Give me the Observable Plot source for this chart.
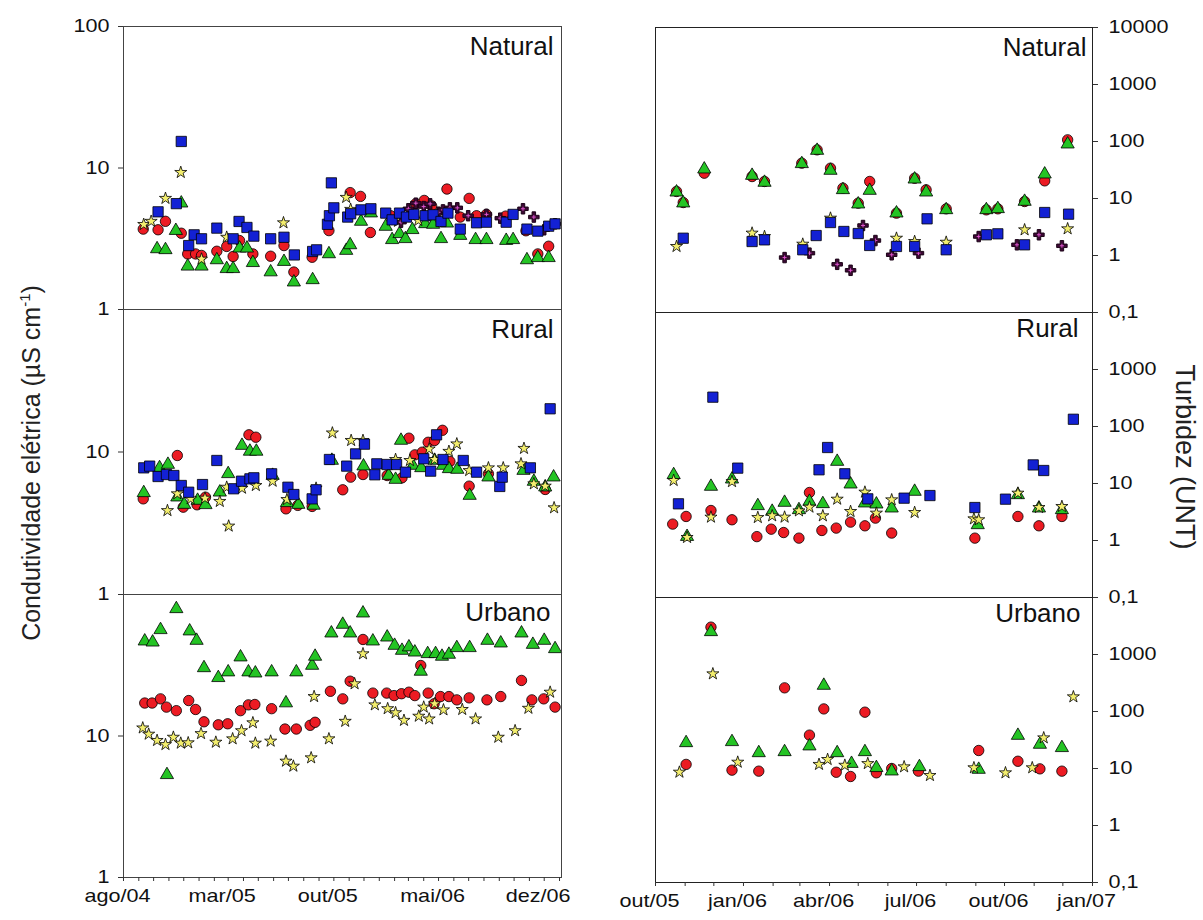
<!DOCTYPE html>
<html>
<head>
<meta charset="utf-8">
<script src="https://cdn.jsdelivr.net/npm/d3@7"></script>
<script src="https://cdn.jsdelivr.net/npm/@observablehq/plot@0.6"></script>
<style>
  body { margin: 0; background: #fff; }
  #chart { position: relative; width: 1203px; height: 920px; font-family: "Liberation Sans", Arial, sans-serif; color: #111; }
  #chart svg { position: absolute; overflow: visible; }
  .ytitle { position: absolute; white-space: nowrap; color: #222; }
  .ytitle sup { font-size: 15px; }
</style>
</head>
<body>
<div id="chart"></div>
<script>
// ---- Condutividade elétrica (µS cm-1) ----
const condNatRed = [["2004-09-10",3.7],["2004-10-10",3.66],["2004-10-25",4.2],["2004-11-26",3.46],["2004-12-09",2.47],["2004-12-25",2.47],["2005-01-06",2.41],["2005-02-06",2.58],["2005-02-26",2.79],["2005-03-11",2.37],["2005-03-24",3.07],["2005-04-20",2.47],["2005-05-26",2.38],["2005-06-22",2.83],["2005-07-12",1.84],["2005-08-18",2.34],["2005-09-21",3.61],["2005-11-03",6.7],["2005-11-24",6.3],["2005-12-14",3.5],["2006-01-24",4.6],["2006-03-16",5.6],["2006-04-02",5.9],["2006-04-17",5.4],["2006-05-18",7.1],["2006-06-14",4.5],["2006-07-02",6.1],["2006-07-17",4.6],["2006-08-06",4.7],["2006-09-14",4.57],["2006-10-25",3.6],["2006-11-18",2.47],["2006-12-10",2.8]];
const condNatGreen = [["2004-10-08",2.68],["2004-10-25",2.64],["2004-11-15",3.61],["2004-11-26",5.64],["2004-12-09",2.02],["2005-01-06",2.02],["2005-02-06",2.24],["2005-02-26",1.94],["2005-03-11",1.94],["2005-03-24",2.71],["2005-04-08",2.71],["2005-04-20",2.14],["2005-05-26",1.84],["2005-06-22",2.18],["2005-07-12",1.56],["2005-08-19",1.62],["2005-09-21",2.47],["2005-10-26",2.61],["2005-11-03",2.86],["2005-11-25",4.19],["2005-12-15",4.8],["2006-01-14",3.86],["2006-01-27",3.11],["2006-02-11",3.43],["2006-02-23",3.16],["2006-03-09",3.66],["2006-04-04",4.03],["2006-04-20",3.99],["2006-05-06",3.16],["2006-05-18",4.07],["2006-06-14",3.33],["2006-07-15",3.11],["2006-08-06",3.11],["2006-09-15",3.07],["2006-09-29",3.11],["2006-10-27",2.24],["2006-11-18",2.32],["2006-12-10",2.32]];
const condNatYellow = [["2004-09-11",3.99],["2004-09-26",4.2],["2004-10-25",6.1],["2004-11-25",9.3],["2005-01-06",2.27],["2005-02-26",3.24],["2005-06-21",4.1],["2005-10-26",6.2],["2005-11-04",5.1],["2006-02-08",4.2],["2006-03-21",4.26]];
const condNatDark = [["2006-02-14",4.14],["2006-03-01",5.15],["2006-03-16",5.64],["2006-04-01",5.34],["2006-04-14",5.58],["2006-05-01",4.87],["2006-05-10",5.06],["2006-05-24",5.23],["2006-06-08",5.23],["2006-06-30",4.6],["2006-08-06",4.7],["2006-09-03",4.42],["2006-10-19",5.15],["2006-11-10",4.5],["2006-12-01",3.66],["2006-12-23",4.03]];
const condNatBlue = [["2004-10-10",4.9],["2004-11-16",5.6],["2004-11-26",15.4],["2004-12-11",2.83],["2004-12-22",3.37],["2005-01-06",3.16],["2005-02-06",3.76],["2005-03-11",3.16],["2005-03-23",4.19],["2005-04-08",3.8],["2005-04-22",3.3],["2005-05-26",3.16],["2005-06-22",3.24],["2005-07-13",2.43],["2005-08-19",2.57],["2005-08-27",2.64],["2005-09-18",4.0],["2005-09-22",4.6],["2005-09-26",7.85],["2005-10-01",5.23],["2005-10-29",4.5],["2005-11-04",4.75],["2005-11-25",5.06],["2005-12-15",5.15],["2006-01-14",4.8],["2006-01-27",4.3],["2006-02-11",4.8],["2006-02-25",4.5],["2006-03-12",4.7],["2006-04-04",4.6],["2006-04-20",4.67],["2006-05-06",4.19],["2006-05-20",4.8],["2006-06-14",3.7],["2006-07-17",4.1],["2006-08-06",4.14],["2006-09-15",4.14],["2006-09-29",4.7],["2006-10-27",3.7],["2006-11-18",3.58],["2006-12-10",3.88],["2006-12-23",4.03]];

const condRurRed = [["2004-09-10",4.69],["2004-11-18",9.45],["2004-11-30",4.1],["2004-12-28",4.26],["2005-01-14",4.82],["2005-04-12",13.2],["2005-04-26",12.7],["2005-06-26",3.99],["2005-07-20",4.22],["2005-08-18",4.15],["2005-10-19",5.43],["2005-11-04",6.66],["2005-11-29",6.95],["2006-01-17",6.84],["2006-02-16",6.59],["2006-03-02",12.5],["2006-03-14",9.55],["2006-03-29",9.97],["2006-04-10",11.7],["2006-04-23",12.05],["2006-05-09",14.2],["2006-05-24",8.58],["2006-07-02",5.76],["2006-08-10",7.03],["2006-12-03",5.46]];
const condRurGreen = [["2004-09-11",5.17],["2004-10-13",7.74],["2004-10-30",8.17],["2004-11-18",4.82],["2004-12-02",4.28],["2004-12-29",4.57],["2005-01-14",4.26],["2005-02-12",5.22],["2005-03-01",7.03],["2005-03-29",11.1],["2005-04-14",10.1],["2005-04-27",10.1],["2005-05-30",6.84],["2005-06-28",4.4],["2005-07-21",4.28],["2005-08-21",4.22],["2005-09-27",8.72],["2005-11-30",7.96],["2006-01-20",6.84],["2006-02-03",6.41],["2006-02-14",12.05],["2006-03-10",8.04],["2006-03-27",7.74],["2006-04-23",8.72],["2006-05-10",8.04],["2006-05-22",7.62],["2006-06-08",7.54],["2006-07-03",4.95],["2006-08-10",6.66],["2006-10-20",7.41],["2006-11-10",6.21],["2006-12-03",5.67],["2006-12-20",6.66]];
const condRurYellow = [["2004-10-29",3.88],["2004-11-18",5.09],["2004-12-15",4.69],["2005-01-13",4.74],["2005-02-12",4.5],["2005-02-26",5.66],["2005-03-02",3.02],["2005-03-29",5.57],["2005-04-26",5.82],["2005-05-30",6.24],["2005-06-28",4.64],["2005-08-26",5.57],["2005-09-28",13.6],["2005-11-05",12.05],["2005-11-29",12.05],["2006-02-03",8.86],["2006-03-04",8.72],["2006-04-12",10.5],["2006-04-23",8.86],["2006-05-22",10.1],["2006-06-07",11.4],["2006-07-02",7.41],["2006-08-10",7.74],["2006-09-09",7.74],["2006-10-15",8.26],["2006-10-21",10.6],["2006-11-10",5.98],["2006-12-03",5.76],["2006-12-21",4.06]];
const condRurBlue = [["2004-09-11",7.74],["2004-09-23",7.96],["2004-10-10",6.73],["2004-10-27",6.95],["2004-11-11",6.84],["2004-11-26",5.82],["2004-12-11",5.22],["2005-01-08",5.91],["2005-02-06",8.72],["2005-03-12",5.52],["2005-03-28",6.24],["2005-04-14",6.48],["2005-04-22",6.59],["2005-05-28",7.03],["2005-06-30",5.66],["2005-07-12",5.03],["2005-08-18",4.69],["2005-08-26",5.43],["2005-09-22",8.86],["2005-10-27",7.96],["2005-11-14",9.7],["2005-12-02",11.35],["2005-12-23",6.92],["2005-12-27",8.26],["2006-01-17",8.17],["2006-02-05",8.17],["2006-02-23",7.22],["2006-04-01",8.96],["2006-04-15",7.34],["2006-04-27",13.2],["2006-05-10",8.86],["2006-06-20",8.72],["2006-07-17",7.22],["2006-09-02",5.73],["2006-09-07",6.66],["2006-11-03",7.74],["2006-12-13",20.1]];

const condUrbRed = [["2004-09-13",17.1],["2004-09-28",17.1],["2004-10-15",18.3],["2004-10-27",16.0],["2004-11-16",15.1],["2004-12-11",17.8],["2004-12-25",15.4],["2005-01-11",12.6],["2005-02-09",12.0],["2005-02-28",12.2],["2005-03-26",15.1],["2005-04-11",16.6],["2005-04-24",16.7],["2005-05-28",15.6],["2005-06-24",11.2],["2005-07-17",11.2],["2005-08-14",11.9],["2005-08-24",12.5],["2005-09-24",20.7],["2005-10-19",18.3],["2005-11-03",24.4],["2005-11-29",48.1],["2005-12-19",20.1],["2006-01-16",20.1],["2006-01-31",19.3],["2006-02-15",19.9],["2006-03-02",20.4],["2006-03-14",19.3],["2006-03-26",31.5],["2006-04-10",20.1],["2006-04-22",16.9],["2006-05-05",19.0],["2006-05-22",19.0],["2006-06-07",18.0],["2006-07-02",18.6],["2006-08-07",18.0],["2006-09-04",19.0],["2006-10-16",24.7],["2006-11-06",18.0],["2006-11-30",18.3],["2006-12-23",16.0]];
const condUrbGreen = [["2004-09-13",46.8],["2004-09-29",46.0],["2004-10-15",56.3],["2004-10-28",5.32],["2004-11-16",79.2],["2004-12-13",55.1],["2004-12-27",47.3],["2005-01-11",30.3],["2005-02-09",25.8],["2005-03-01",28.3],["2005-03-26",36.1],["2005-04-11",28.3],["2005-04-25",27.8],["2005-05-28",28.3],["2005-06-26",17.1],["2005-07-17",28.3],["2005-08-18",31.5],["2005-08-24",36.5],["2005-09-26",53.3],["2005-10-19",61.4],["2005-11-03",53.3],["2005-11-29",73.8],["2005-12-19",46.8],["2006-01-17",49.9],["2006-02-01",43.6],["2006-02-16",40.2],["2006-03-02",42.5],["2006-03-14",39.1],["2006-03-26",28.6],["2006-04-09",38.1],["2006-04-25",38.1],["2006-05-08",36.5],["2006-05-22",37.7],["2006-06-07",42.0],["2006-07-03",42.0],["2006-08-08",47.3],["2006-09-04",45.3],["2006-10-16",53.3],["2006-11-08",44.3],["2006-12-01",47.3],["2006-12-23",41.3]];
const condUrbYellow = [["2004-09-09",11.4],["2004-09-21",10.3],["2004-10-08",9.3],["2004-10-25",8.7],["2004-11-10",9.8],["2004-11-25",8.9],["2004-12-10",8.95],["2005-01-05",10.4],["2005-02-04",9.04],["2005-03-10",9.55],["2005-03-28",10.9],["2005-04-20",12.4],["2005-04-25",8.9],["2005-05-26",9.2],["2005-06-26",6.64],["2005-07-11",6.12],["2005-08-16",7.01],["2005-08-22",19.0],["2005-09-21",9.55],["2005-10-24",12.7],["2005-11-12",23.4],["2005-11-29",38.1],["2005-12-23",16.6],["2006-01-18",15.6],["2006-02-03",14.6],["2006-02-20",12.9],["2006-03-22",13.8],["2006-04-01",16.0],["2006-04-12",13.2],["2006-04-23",16.9],["2006-05-11",15.3],["2006-06-18",15.4],["2006-07-15",13.2],["2006-08-30",9.8],["2006-10-03",10.9],["2006-10-30",15.7],["2006-12-13",20.4]];

// ---- Turbidez (UNT) ----
const turbNatRed = [["2005-10-23",13.3],["2005-10-30",8.5],["2005-11-21",27.8],["2006-01-10",24.3],["2006-01-23",19.9],["2006-03-03",41.7],["2006-03-19",71.4],["2006-04-02",34.0],["2006-04-15",15.2],["2006-05-01",8.28],["2006-05-13",19.9],["2006-06-10",5.53],["2006-06-29",22.7],["2006-07-11",14.2],["2006-08-01",6.59],["2006-09-12",6.32],["2006-09-24",6.59],["2006-10-22",8.86],["2006-11-12",20.4],["2006-12-06",107]];
const turbNatGreen = [["2005-10-23",12.9],["2005-10-30",8.3],["2005-11-21",32.7],["2006-01-10",25.3],["2006-01-23",19.1],["2006-03-03",40.6],["2006-03-19",69.5],["2006-04-02",31.0],["2006-04-15",14.2],["2006-05-01",7.96],["2006-05-13",13.8],["2006-06-10",5.53],["2006-06-29",21.8],["2006-07-11",12.9],["2006-08-01",6.32],["2006-09-12",6.32],["2006-09-24",6.59],["2006-10-22",8.86],["2006-11-12",26.7],["2006-12-06",89.8]];
const turbNatYellow = [["2005-10-23",1.44],["2006-01-10",2.47],["2006-01-23",2.15],["2006-03-04",1.58],["2006-04-02",4.52],["2006-06-10",2.01],["2006-06-29",1.76],["2006-08-01",1.71],["2006-10-22",2.82],["2006-12-06",2.94]];
const turbNatDark = [["2006-02-13",0.92],["2006-03-11",1.1],["2006-04-09",0.7],["2006-04-23",0.55],["2006-05-06",3.36],["2006-05-19",1.83],["2006-06-05",1.03],["2006-07-03",1.1],["2006-09-04",2.15],["2006-10-14",1.54],["2006-11-06",2.31],["2006-11-30",1.48]];
const turbNatBlue = [["2005-10-30",2.01],["2006-01-10",1.76],["2006-01-23",1.88],["2006-03-04",1.26],["2006-03-18",2.24],["2006-04-02",3.79],["2006-04-16",2.64],["2006-05-01",2.43],["2006-05-13",1.5],["2006-06-10",1.44],["2006-06-29",1.44],["2006-07-12",4.4],["2006-08-01",1.26],["2006-09-12",2.31],["2006-09-24",2.4],["2006-10-22",1.54],["2006-11-12",5.68],["2006-12-07",5.31]];

const turbRurRed = [["2005-10-19",1.94],["2005-11-02",2.64],["2005-11-28",3.36],["2005-12-20",2.31],["2006-01-15",1.17],["2006-01-30",1.58],["2006-02-12",1.38],["2006-02-28",1.1],["2006-03-11",6.95],["2006-03-24",1.5],["2006-04-08",1.65],["2006-04-23",2.1],["2006-05-08",1.81],["2006-05-19",2.47],["2006-06-05",1.35],["2006-08-31",1.1],["2006-10-15",2.64],["2006-11-06",1.81],["2006-11-30",2.64]];
const turbRurGreen = [["2005-10-20",14.2],["2005-11-03",1.17],["2005-11-28",8.86],["2005-12-20",11.9],["2006-01-16",4.06],["2006-01-31",3.23],["2006-02-13",4.64],["2006-02-28",3.45],["2006-03-11",4.83],["2006-03-25",4.4],["2006-04-09",24.3],["2006-04-23",9.73],["2006-05-08",4.52],["2006-05-20",4.34],["2006-06-05",3.69],["2006-06-29",7.24],["2006-09-03",1.88],["2006-10-15",6.32],["2006-11-06",3.69],["2006-11-30",3.45]];
const turbRurYellow = [["2005-10-20",11.3],["2005-11-03",1.13],["2005-11-28",2.57],["2005-12-20",10.8],["2006-01-16",2.53],["2006-01-31",2.71],["2006-02-13",2.57],["2006-02-28",3.31],["2006-03-11",3.85],["2006-03-25",2.71],["2006-04-09",5.31],["2006-04-23",3.23],["2006-05-08",7.05],["2006-05-20",3.02],["2006-06-05",5.17],["2006-06-29",3.1],["2006-08-30",2.4],["2006-09-04",2.31],["2006-10-15",6.77],["2006-11-06",3.79],["2006-11-30",3.95]];
const turbRurBlue = [["2005-10-25",4.4],["2005-11-30",327],["2005-12-26",18.6],["2006-03-21",17.4],["2006-03-30",42.8],["2006-04-17",14.8],["2006-05-11",5.38],["2006-06-18",5.53],["2006-07-15",6.15],["2006-08-31",3.79],["2006-10-02",5.31],["2006-10-31",21.2],["2006-11-11",16.9],["2006-12-12",134]];

const turbUrbRed = [["2005-11-02",11.8],["2005-11-28",3020],["2005-12-20",9.35],["2006-01-17",8.98],["2006-02-13",260],["2006-03-11",38.5],["2006-03-26",111],["2006-04-08",8.6],["2006-04-23",7.24],["2006-05-08",97.3],["2006-05-20",8.4],["2006-06-05",10.0],["2006-07-03",8.98],["2006-09-04",20.7],["2006-10-15",13.4],["2006-11-07",9.86],["2006-11-30",8.98]];
const turbUrbGreen = [["2005-11-02",28.2],["2005-11-28",2500],["2005-12-20",29.4],["2006-01-17",18.8],["2006-02-13",19.6],["2006-03-11",24.7],["2006-03-26",286],["2006-04-09",18.8],["2006-04-24",12.2],["2006-05-08",19.6],["2006-05-20",10.3],["2006-06-05",8.98],["2006-07-04",10.7],["2006-09-04",9.6],["2006-10-15",37.9],["2006-11-07",26.4],["2006-11-30",23.1]];
const turbUrbYellow = [["2005-10-26",8.62],["2005-11-30",458],["2005-12-26",12.9],["2006-03-21",11.8],["2006-03-30",14.4],["2006-04-17",11.4],["2006-05-11",12.2],["2006-06-18",10.7],["2006-07-15",7.54],["2006-08-30",10.3],["2006-10-02",8.4],["2006-10-30",10.3],["2006-11-11",34.5],["2006-12-12",181]];

// Axis ticks and labels
const monthNames = ["jan","fev","mar","abr","mai","jun","jul","ago","set","out","nov","dez"];
const condTicks = [1, 10, 100];
const turbTicks = [0.1, 1, 10, 100, 1000, 10000];
const condMonthLabels = ["2004-08-01","2005-03-01","2005-10-01","2006-05-01","2006-12-01"];
const turbMonthLabels = ["2005-10-01","2006-01-01","2006-04-01","2006-07-01","2006-10-01","2007-01-01"];

// Marker styles
const MARKERS = {
  red:    {symbol: "circle",   fill: "#ec1b23", r: 5.2},
  green:  {symbol: "triangle", fill: "#24c424", r: 4.9},
  yellow: {symbol: "star",     fill: "#f3ee6e", r: 3.8},
  dark:   {symbol: "cross",    fill: "#3c0934", r: 4.4, stroke: "#1c0418", strokeWidth: 1},
  blue:   {symbol: "square",   fill: "#1321d4", r: 5.8}
};
const ORDER = ["red", "green", "yellow", "dark", "blue"];

const toRows = arr => arr.map(([d, v]) => ({date: new Date(d), value: v}));
const fmtMonth = d => monthNames[d.getUTCMonth()] + "/" + String(d.getUTCFullYear()).slice(2);
const fmtTurb = d => d === 0.1 ? "0,1" : String(d);

const chart = document.getElementById("chart");
const FONT = "'Liberation Sans', Arial, sans-serif";

function panel(cfg) {
  const marks = [];
  for (const key of ORDER) {
    const arr = cfg.series[key];
    if (!arr) continue;
    const m = MARKERS[key];
    const rows = toRows(arr);
    marks.push(Plot.dot(rows, {
      x: "date", y: "value", symbol: m.symbol, r: m.r, fill: m.fill,
      stroke: m.stroke || "#000", strokeWidth: m.strokeWidth || 0.8
    }));
    // small pink centre on the dark crosses
    if (key === "dark") marks.push(Plot.dot(rows, {x: "date", y: "value", symbol: "plus", r: 1.4, stroke: "#e85ad8", strokeWidth: 0.9}));
  }
  marks.push(Plot.frame({stroke: cfg.frameColor, strokeWidth: 1}));
  marks.push(Plot.axisY(cfg.yTicks, {
    anchor: cfg.yAnchor, tickSize: 5, tickPadding: cfg.yAnchor === "left" ? 9 : 11,
    tickFormat: cfg.yFormat, fontSize: 18, label: null, stroke: "#333"
  }));
  if (cfg.xTicks) {
    marks.push(Plot.axisX(cfg.xTicks, {tickSize: 4, tickFormat: () => "", label: null, stroke: "#333"}));
    marks.push(Plot.axisX(cfg.xLabels, {tickSize: 0, tickPadding: 12, dx: -6, tickFormat: fmtMonth, fontSize: 18, label: null}));
  }
  marks.push(Plot.text([cfg.title], {
    frameAnchor: "top-right", dx: cfg.titleDx, dy: cfg.titleDy, fontSize: 26, fill: "#111"
  }));
  const svg = Plot.plot({
    width: cfg.width, height: cfg.height,
    marginLeft: cfg.ml, marginRight: cfg.mr, marginTop: cfg.mt, marginBottom: cfg.mb,
    x: {type: "utc", domain: cfg.xDomain, label: null, ...(cfg.xTicks ? {} : {axis: null})},
    y: {type: "log", domain: cfg.yDomain, label: null},
    style: {background: "transparent", fontFamily: FONT, fontSize: "18px", color: "#111", overflow: "visible"},
    marks
  });
  // the tick labels are set in a slightly widened face
  d3.select(svg).selectAll('g[aria-label$="tick label"] text').each(function() {
    const t = this.getAttribute("transform");
    if (t) this.setAttribute("transform", t + " scale(1.2,1)");
  });
  svg.style.left = cfg.left + "px";
  svg.style.top = cfg.top + "px";
  chart.appendChild(svg);
}

const condDomain = [new Date("2004-08-01"), new Date("2007-01-05")];
const turbDomain = [new Date("2005-10-01"), new Date("2007-01-01")];
const condMonths = d3.utcMonth.range(new Date("2004-08-01"), new Date("2007-01-02"));
const turbMonths = d3.utcMonth.range(new Date("2005-10-01"), new Date("2007-01-02"));

const left = {left: 0, width: 600, ml: 123, mr: 39, xDomain: condDomain, yDomain: [1, 100], yAnchor: "left", yFormat: d => String(d), frameColor: "#444"};
const right = {left: 600, width: 603, ml: 55, mr: 111, xDomain: turbDomain, yDomain: [0.1, 10000], yAnchor: "right", yFormat: fmtTurb, frameColor: "#222"};

panel({...left, top: 0, height: 324, mt: 26, mb: 15, yTicks: condTicks, title: "Natural", titleDx: -8, titleDy: 10,
  series: {red: condNatRed, green: condNatGreen, yellow: condNatYellow, dark: condNatDark, blue: condNatBlue}});
panel({...left, top: 294, height: 315, mt: 15, mb: 15, yTicks: condTicks.slice(0, 2), title: "Rural", titleDx: -8, titleDy: 10,
  series: {red: condRurRed, green: condRurGreen, yellow: condRurYellow, blue: condRurBlue}});
panel({...left, top: 579, height: 338, mt: 15, mb: 40, yTicks: condTicks.slice(0, 2), title: "Urbano", titleDx: -11, titleDy: 8,
  xTicks: condMonths, xLabels: condMonthLabels.map(d => new Date(d)),
  series: {red: condUrbRed, green: condUrbGreen, yellow: condUrbYellow}});

panel({...right, top: 0, height: 327, mt: 27, mb: 15, yTicks: turbTicks, title: "Natural", titleDx: -6, titleDy: 10,
  series: {red: turbNatRed, green: turbNatGreen, yellow: turbNatYellow, dark: turbNatDark, blue: turbNatBlue}});
panel({...right, top: 297, height: 315, mt: 15, mb: 15, yTicks: turbTicks.slice(0, 5), title: "Rural", titleDx: -14, titleDy: 6,
  series: {red: turbRurRed, green: turbRurGreen, yellow: turbRurYellow, blue: turbRurBlue}});
panel({...right, top: 582, height: 338, mt: 15, mb: 38, yTicks: turbTicks.slice(0, 5), title: "Urbano", titleDx: -12, titleDy: 6,
  xTicks: turbMonths, xLabels: turbMonthLabels.map(d => new Date(d)),
  series: {red: turbUrbRed, green: turbUrbGreen, yellow: turbUrbYellow}});

// Axis titles
const yLeft = document.createElement("div");
yLeft.className = "ytitle";
yLeft.style.fontSize = "25px";
yLeft.innerHTML = "Condutividade elétrica (µS cm<sup>-1</sup>)";
yLeft.style.left = "31px";
yLeft.style.top = "463px";
yLeft.style.transform = "translate(-50%, -50%) rotate(-90deg)";
chart.appendChild(yLeft);

const yRight = document.createElement("div");
yRight.className = "ytitle";
yRight.style.fontSize = "27px";
yRight.textContent = "Turbidez (UNT)";
yRight.style.left = "1184px";
yRight.style.top = "457px";
yRight.style.transform = "translate(-50%, -50%) rotate(90deg)";
chart.appendChild(yRight);
</script>
</body>
</html>
